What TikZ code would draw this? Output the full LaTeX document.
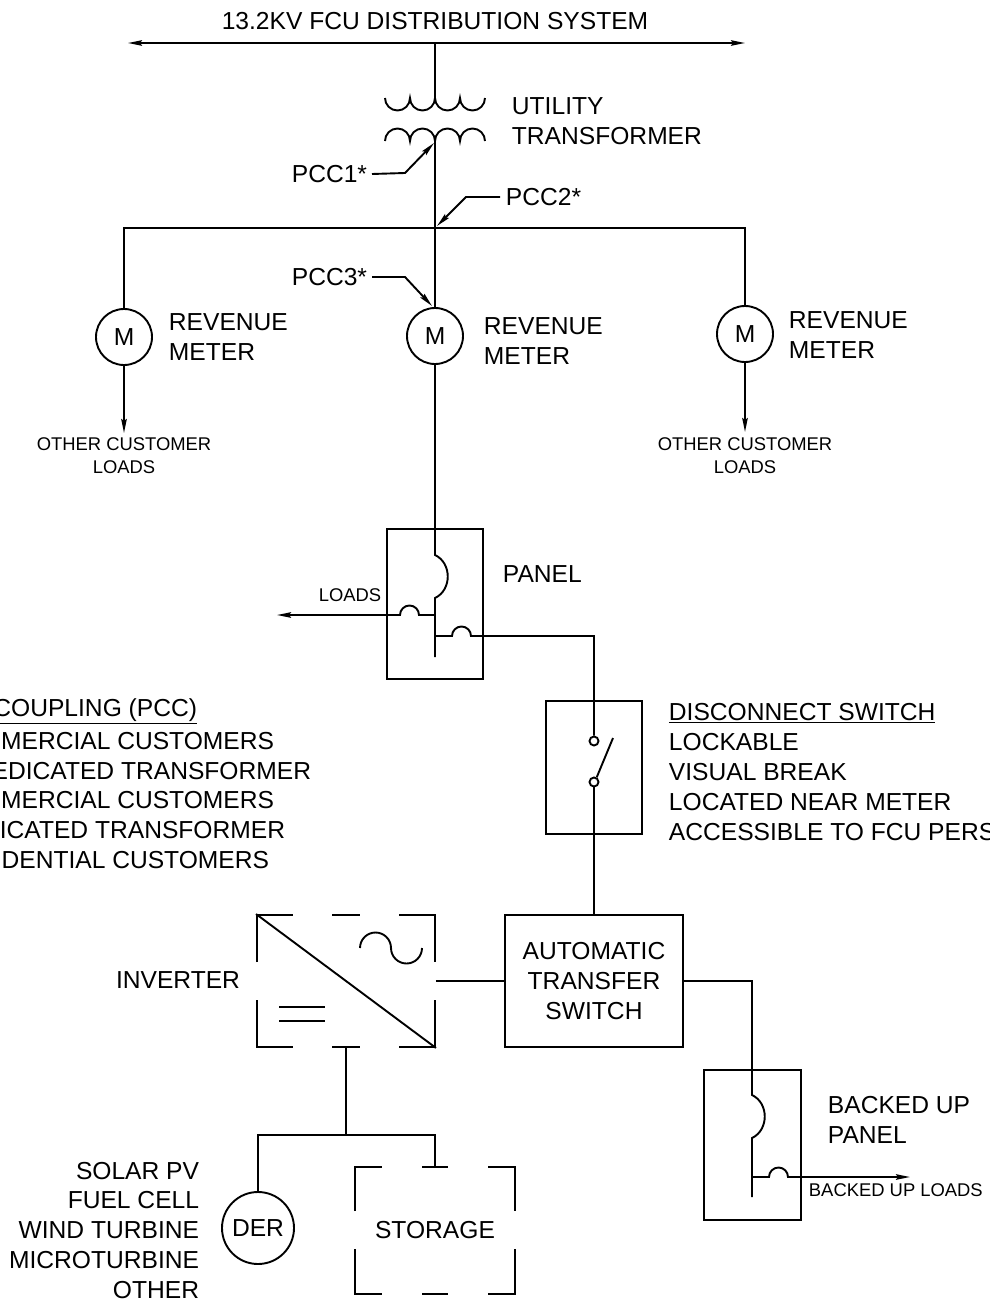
\documentclass[tikz,border=0pt]{standalone}
\usepackage{fontspec}
\setmainfont{Liberation Sans}
\usetikzlibrary{arrows.meta}

\tikzset{
  tip/.style={-{Stealth[length=14pt,width=5.5pt,inset=2pt]}},
  twotip/.style={{Stealth[length=14pt,width=5.5pt,inset=2pt]}-{Stealth[length=14pt,width=5.5pt,inset=2pt]}},
  big/.style={font=\fontsize{24.6}{30}\selectfont,inner sep=0pt},
  small/.style={font=\fontsize{18.4}{23}\selectfont,inner sep=0pt},
  meter/.style={circle,draw,minimum size=56pt,inner sep=0pt,big},
  box/.style={rectangle,draw,inner sep=0pt},
  contact/.style={circle,draw,minimum size=9pt,inner sep=0pt},
}

\begin{document}
\begin{tikzpicture}[x=1pt,y=-1pt,line width=1.9pt]
  \useasboundingbox (0,0) rectangle (990,1301);
  \clip (0,0) rectangle (990,1301);

  % distribution bus and utility transformer
  \node[big,anchor=north] (title) at (435,11) {13.2KV FCU DISTRIBUTION SYSTEM};
  \coordinate (busW) at (128,43);
  \coordinate (busE) at (745,43);
  \coordinate (busC) at (435,43);
  \draw[twotip] (busW) -- (busE);
  \coordinate (pri) at (435,98);
  \coordinate (sec) at (435,141);
  \draw (busC) -- (pri);
  \draw (385,98) arc[start angle=180,end angle=0,radius=12.5]
                 arc[start angle=180,end angle=0,radius=12.5]
                 arc[start angle=180,end angle=0,radius=12.5]
                 arc[start angle=180,end angle=0,radius=12.5];
  \draw (385,141) arc[start angle=180,end angle=360,radius=12.5]
                  arc[start angle=180,end angle=360,radius=12.5]
                  arc[start angle=180,end angle=360,radius=12.5]
                  arc[start angle=180,end angle=360,radius=12.5];
  \node[big,anchor=north west,align=left] (xfmr) at (511,97) {UTILITY\\TRANSFORMER};

  % meters
  \coordinate (j) at (435,228);
  \node[meter] (m1) at (124,337) {M};
  \node[meter] (m2) at (435,336) {M};
  \node[meter] (m3) at (745,334) {M};
  \draw (sec) -- (j);
  \draw (m1) |- (j) -| (m3);
  \draw (j) -- (m2);
  \node[big,anchor=north west,align=left] (rm1) at (168,313) {REVENUE\\METER};
  \node[big,anchor=north west,align=left] (rm2) at (483,317) {REVENUE\\METER};
  \node[big,anchor=north west,align=left] (rm3) at (788,311) {REVENUE\\METER};
  \coordinate (ol1) at (124,433);
  \coordinate (ol3) at (745,432);
  \draw[tip] (m1) -- (ol1);
  \draw[tip] (m3) -- (ol3);
  \node[small,anchor=north,align=center] (olt1) at (124,437) {OTHER CUSTOMER\\LOADS};
  \node[small,anchor=north,align=center] (olt3) at (745,437) {OTHER CUSTOMER\\LOADS};

  % points of common coupling
  \node[big,anchor=east] (pcc1) at (368,174) {PCC1*};
  \node[big,anchor=west] (pcc2) at (505,197) {PCC2*};
  \node[big,anchor=east] (pcc3) at (368,277) {PCC3*};
  \coordinate (pcc1tip) at (434,143);
  \coordinate (pcc2tip) at (437,226);
  \coordinate (pcc3tip) at (432,306);
  \draw[tip] ([xshift=4pt]pcc1.east) -- (405,173) -- (pcc1tip);
  \draw[tip] ([xshift=-5pt]pcc2.west) -- (466,197) -- (pcc2tip);
  \draw[tip] ([xshift=4pt]pcc3.east) -- (405,277) -- (pcc3tip);

  % panel
  \node[box,minimum width=96pt,minimum height=150pt] (panel) at (435,604) {};
  \node[big,anchor=west] (pnl) at (502,574) {PANEL};
  \coordinate (pnTop) at (435,555);
  \coordinate (loads) at (277,615);
  \draw (m2) -- (pnTop) .. controls (452,563) and (452,590) .. (435,598) -- (435,657);
  \draw[tip] (435,615) -- (419,615) arc[start angle=0,end angle=-180,radius=9.5] -- (loads);
  \node[small] (ldt) at (350,595) {LOADS};

  % disconnect switch
  \node[box,minimum width=96pt,minimum height=133pt] (ds) at (594,767.5) {};
  \node[contact] (c1) at (594,741) {};
  \node[contact] (c2) at (594,782) {};
  \draw (435,636) -- (452,636) arc[start angle=180,end angle=360,radius=9.5] -| (c1);
  \draw (c2.60) -- (613,738);
  \node[big,anchor=north west,align=left] (dst) at (668,702)
    {\underline{DISCONNECT SWITCH}\\LOCKABLE\\VISUAL BREAK\\LOCATED NEAR METER\\ACCESSIBLE TO FCU PERS};

  % left notes
  \foreach \t/\x/\y [count=\i] in {{\underline{COUPLING (PCC)}}/198/711,MERCIAL CUSTOMERS/275/741,
      EDICATED TRANSFORMER/312/771,MERCIAL CUSTOMERS/275/800,ICATED TRANSFORMER/286/830,
      DENTIAL CUSTOMERS/270/860}
    \node[big,anchor=east] (note\i) at (\x,\y) {\t};

  % transfer switch and inverter
  \node[box,minimum width=178pt,minimum height=132pt,big,align=center] (ats) at (594,981)
    {AUTOMATIC\\TRANSFER\\SWITCH};
  \draw (c2) -- (ats);
  \node[minimum width=178pt,minimum height=132pt,inner sep=0pt] (inv) at (346,981) {};
  \draw (257,962) -- (257,915) -- (293,915);
  \draw (399,915) -- (435,915) -- (435,962);
  \draw (257,1000) -- (257,1047) -- (293,1047);
  \draw (399,1047) -- (435,1047) -- (435,1000);
  \draw (332,915) -- (360,915);
  \draw (332,1047) -- (360,1047);
  \draw (inv.north west) -- (inv.south east);
  \draw (360,948) arc[start angle=180,end angle=360,radius=15.5]
                  arc[start angle=180,end angle=0,radius=15.5];
  \draw (279,1007) -- (325,1007);
  \draw (279,1021) -- (325,1021);
  \node[big] (invt) at (178,980) {INVERTER};
  \draw (inv.east) -- (ats.west);

  % backed up panel
  \node[box,minimum width=97pt,minimum height=150pt] (bup) at (752.5,1145) {};
  \coordinate (bupTop) at (752,1095);
  \coordinate (bloads) at (910,1177);
  \draw (ats.east) -| (bupTop) .. controls (769,1103) and (769,1130) .. (752,1138) -- (752,1197);
  \draw[tip] (752,1177) -- (769,1177) arc[start angle=180,end angle=360,radius=9.5] -- (bloads);
  \node[big,anchor=north west,align=left] (bupt) at (827,1095) {BACKED UP\\PANEL};
  \node[small,anchor=west] (blt) at (808,1190) {BACKED UP LOADS};

  % DER and storage
  \coordinate (dcbus) at (346,1135);
  \coordinate (stoT) at (435,1167);
  \node[meter,minimum size=72pt] (der) at (258,1228) {DER};
  \node[big,minimum width=160pt,minimum height=127pt] (sto) at (435,1230.5) {STORAGE};
  \draw (inv.south) -- (dcbus);
  \draw (der) |- (dcbus) -| (stoT);
  \draw (355,1211) -- (355,1167) -- (382,1167);
  \draw (488,1167) -- (515,1167) -- (515,1211);
  \draw (355,1249) -- (355,1294) -- (382,1294);
  \draw (488,1294) -- (515,1294) -- (515,1249);
  \draw (422,1167) -- (448,1167);
  \draw (422,1294) -- (448,1294);
  \node[font=\fontsize{24.6}{29.75}\selectfont,inner sep=0pt,anchor=north east,align=right] (dert) at (200,1161)
    {SOLAR PV\\FUEL CELL\\WIND TURBINE\\MICROTURBINE\\OTHER};
\end{tikzpicture}
\end{document}
